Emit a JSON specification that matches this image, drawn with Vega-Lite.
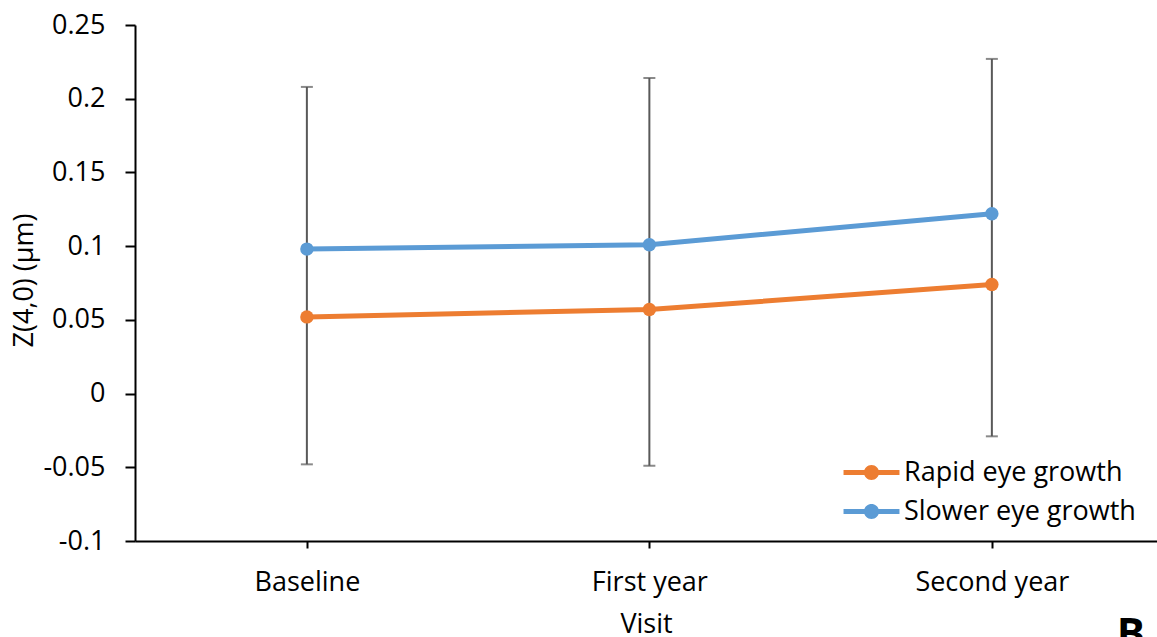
{
  "$schema": "https://vega.github.io/schema/vega-lite/v6.json",
  "width": 1022,
  "height": 516,
  "autosize": {"type": "none"},
  "padding": {"left": 135, "top": 25, "right": 0, "bottom": 96},
  "background": "white",
  "config": {
    "font": "Open Sans",
    "view": {"stroke": null},
    "axis": {"grid": false, "domainColor": "black", "domainWidth": 2, "tickColor": "black", "tickWidth": 2, "labelColor": "black", "titleColor": "black", "labelFont": "Open Sans", "titleFont": "Open Sans", "labelFontSize": 27, "titleFontSize": 27, "titleFontWeight": "normal"}
  },
  "title": {"text": "B", "orient": "bottom", "anchor": "end", "fontSize": 42, "fontWeight": "bold", "font": "Open Sans", "color": "black", "offset": -22, "dx": -12},
  "datasets": {
    "means": [
      {"visit": "Baseline", "group": "Rapid eye growth", "z": 0.052},
      {"visit": "First year", "group": "Rapid eye growth", "z": 0.057},
      {"visit": "Second year", "group": "Rapid eye growth", "z": 0.074},
      {"visit": "Baseline", "group": "Slower eye growth", "z": 0.098},
      {"visit": "First year", "group": "Slower eye growth", "z": 0.101},
      {"visit": "Second year", "group": "Slower eye growth", "z": 0.122}
    ],
    "bars": [
      {"visit": "Baseline", "lo": -0.048, "hi": 0.208},
      {"visit": "First year", "lo": -0.049, "hi": 0.214},
      {"visit": "Second year", "lo": -0.029, "hi": 0.227}
    ]
  },
  "layer": [
    {
      "mark": {"type": "rule", "color": "black", "strokeWidth": 2},
      "encoding": {"y": {"datum": 0.25, "type": "quantitative"}}
    },
    {
      "data": {"name": "bars"},
      "mark": {"type": "rule", "color": "#595959", "strokeWidth": 2},
      "encoding": {
        "x": {"field": "visit", "type": "ordinal"},
        "y": {"field": "lo", "type": "quantitative"},
        "y2": {"field": "hi"}
      }
    },
    {
      "data": {"name": "bars"},
      "mark": {"type": "tick", "color": "#595959", "thickness": 2, "size": 12},
      "encoding": {
        "x": {"field": "visit", "type": "ordinal"},
        "y": {"field": "lo", "type": "quantitative"}
      }
    },
    {
      "data": {"name": "bars"},
      "mark": {"type": "tick", "color": "#595959", "thickness": 2, "size": 12},
      "encoding": {
        "x": {"field": "visit", "type": "ordinal"},
        "y": {"field": "hi", "type": "quantitative"}
      }
    },
    {
      "data": {"name": "means"},
      "mark": {"type": "line", "strokeWidth": 5, "strokeCap": "round"},
      "encoding": {
        "x": {"field": "visit", "type": "ordinal"},
        "y": {"field": "z", "type": "quantitative"},
        "color": {"field": "group", "type": "nominal"}
      }
    },
    {
      "data": {"name": "means"},
      "mark": {"type": "point", "filled": true, "opacity": 1, "size": 180, "shape": "circle"},
      "encoding": {
        "x": {
          "field": "visit", "type": "ordinal", "sort": ["Baseline", "First year", "Second year"],
          "scale": {"type": "point", "padding": 0.492, "align": 0.51},
          "axis": {"title": "Visit", "labelAngle": 0, "labelAlign": "center", "tickSize": 7, "labelPadding": 34, "titleY": 91, "titleBaseline": "alphabetic"}
        },
        "y": {
          "field": "z", "type": "quantitative",
          "scale": {"domain": [-0.1, 0.25], "nice": false, "zero": false},
          "axis": {"title": "Z(4,0) (µm)", "values": [-0.1, -0.05, 0, 0.05, 0.1, 0.15, 0.2, 0.25], "labelExpr": "datum.value == 0 ? '0' : replace(format(datum.value, '.2~f'), '−', '-')", "tickSize": 10, "labelPadding": 20, "titleX": -103, "titleY": 255, "titleBaseline": "alphabetic", "titleAngle": 270}
        },
        "color": {
          "field": "group", "type": "nominal",
          "scale": {"domain": ["Rapid eye growth", "Slower eye growth"], "range": ["#ED7D31", "#5B9BD5"]},
          "legend": {
            "title": null,
            "orient": "none",
            "legendX": 723,
            "legendY": 434,
            "padding": 0,
            "labelFont": "Open Sans",
            "labelFontSize": 27,
            "labelColor": "black",
            "labelLimit": 0,
            "labelOffset": 19,
            "rowPadding": 11,
            "symbolSize": 225,
            "symbolType": "M-3.73,-0.33L3.73,-0.33L3.73,0.33L-3.73,0.33Z M1,0A1,1 0 1,1 -1,0A1,1 0 1,1 1,0Z",
            "symbolStrokeWidth": 0,
            "encode": {"symbols": {"update": {"fill": {"scale": "color", "field": "value"}, "strokeWidth": {"value": 0}, "opacity": {"value": 1}}}}
          }
        }
      }
    }
  ]
}
